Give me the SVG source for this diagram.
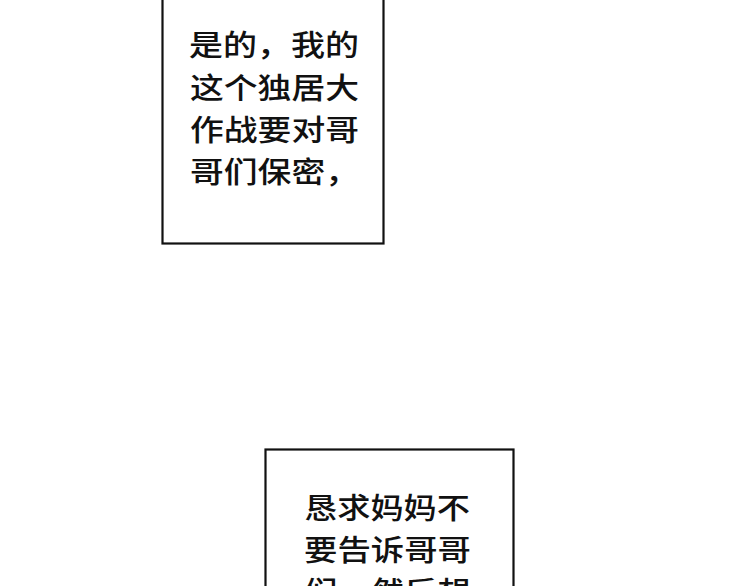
<svg xmlns="http://www.w3.org/2000/svg" width="750" height="586" viewBox="0 0 750 586">
  <style>
    .box { fill: #ffffff; stroke: #111111; stroke-width: 2.2; }
    .txt { font-family: "Noto Sans CJK SC", "Noto Sans", sans-serif; font-size: 29px; font-weight: 500; fill: #111111; }
  </style>
  <rect x="0" y="0" width="750" height="586" fill="#ffffff"/>
  <g id="box1">
    <rect class="box" x="162.5" y="-10" width="221" height="253.5"/>
    <text class="txt" x="189" y="56" textLength="170" lengthAdjust="spacingAndGlyphs">是的，我的</text>
    <text class="txt" x="190" y="99" textLength="169" lengthAdjust="spacingAndGlyphs">这个独居大</text>
    <text class="txt" x="190" y="141" textLength="169" lengthAdjust="spacingAndGlyphs">作战要对哥</text>
    <text class="txt" x="190" y="183" textLength="169" lengthAdjust="spacingAndGlyphs">哥们保密，</text>
  </g>
  <g id="box2">
    <rect class="box" x="265.5" y="449.5" width="248" height="150"/>
    <text class="txt" x="304" y="519" textLength="166" lengthAdjust="spacingAndGlyphs">恳求妈妈不</text>
    <text class="txt" x="304" y="561" textLength="167" lengthAdjust="spacingAndGlyphs">要告诉哥哥</text>
    <text class="txt" x="304" y="603" textLength="167" lengthAdjust="spacingAndGlyphs">们，然后想</text>
  </g>
</svg>
